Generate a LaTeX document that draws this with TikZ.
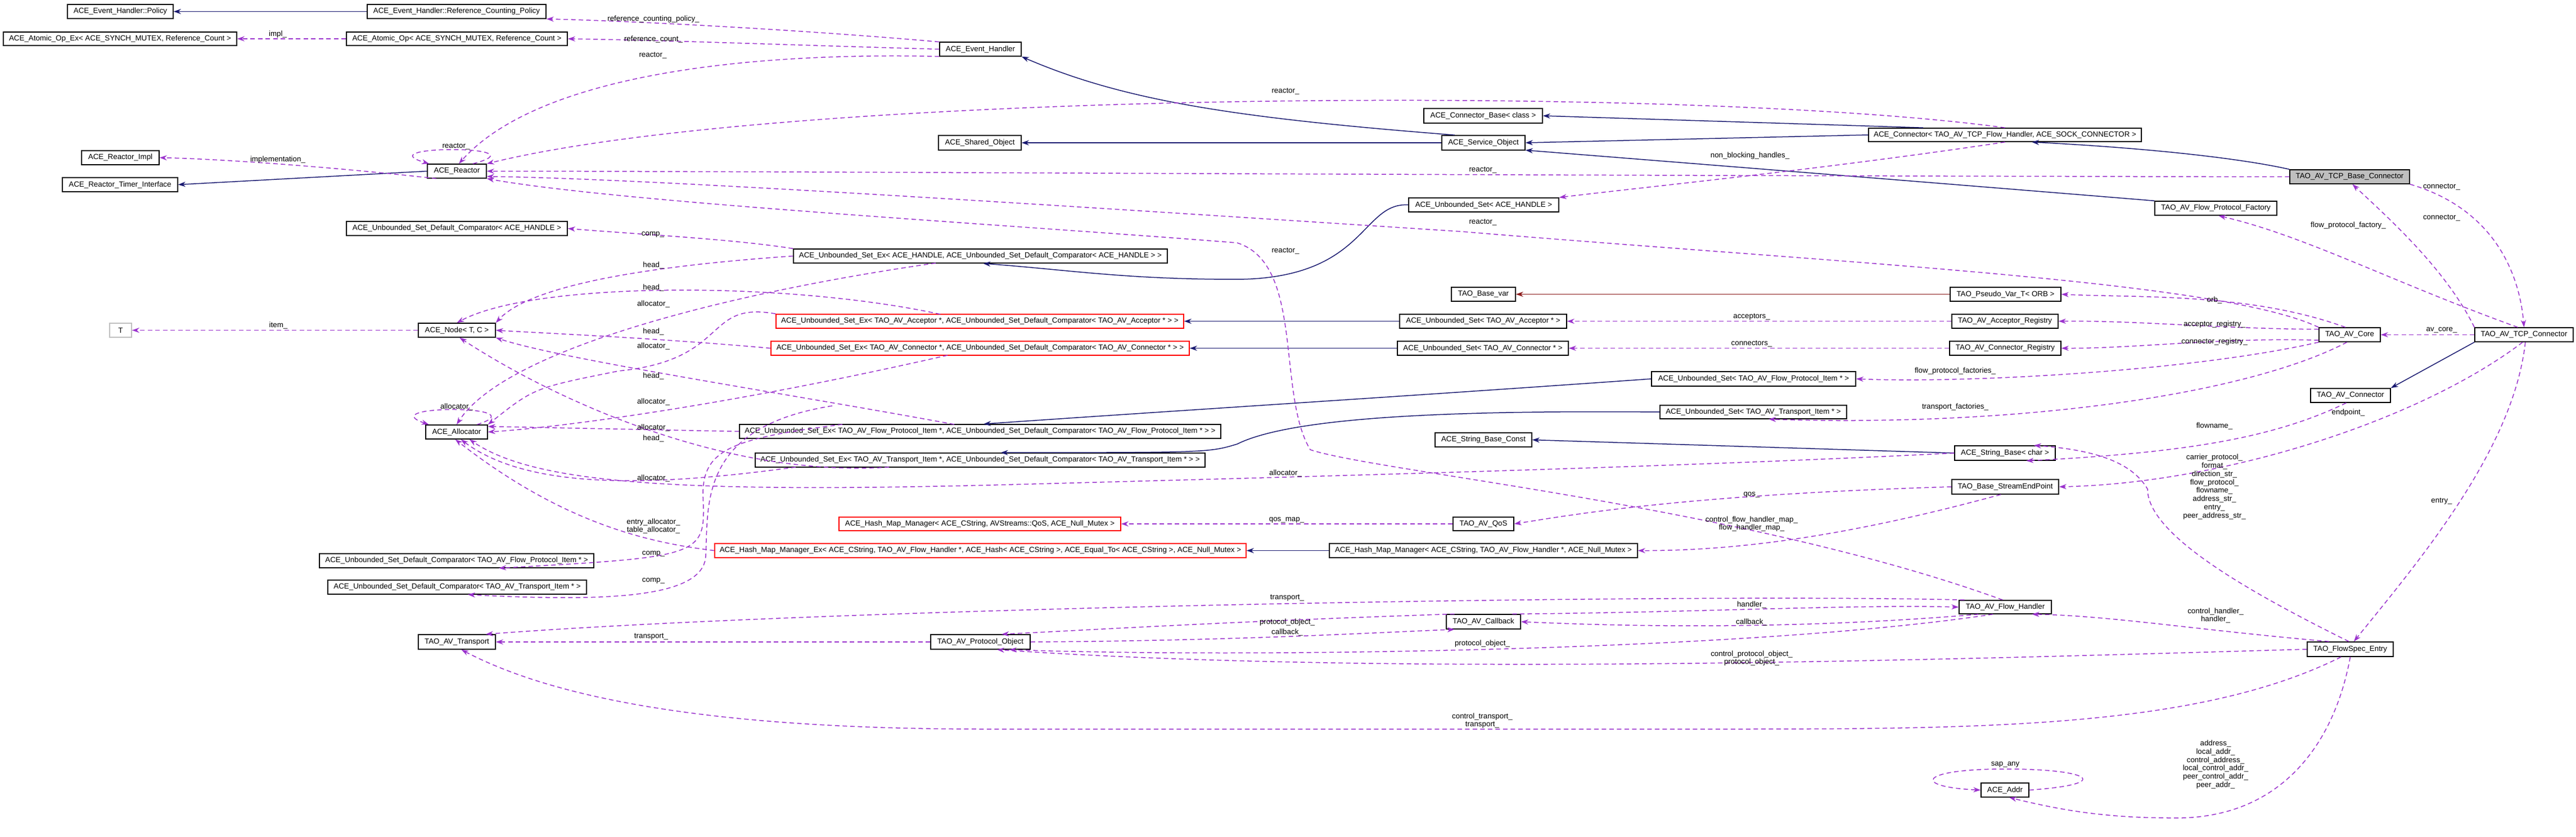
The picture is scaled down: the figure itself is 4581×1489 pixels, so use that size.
\documentclass[tikz,border=0pt]{standalone}
\usepackage{fontspec}
\setmainfont{Liberation Sans}
\usetikzlibrary{arrows.meta}
\definecolor{pur}{HTML}{9A32CD}
\definecolor{nav}{HTML}{191970}
\definecolor{brn}{HTML}{8B1A1A}
\definecolor{gr}{HTML}{BFBFBF}
\newcommand\bx[7]{\node[box,#7,minimum width={(#4-#2)*0.2mm},minimum height={(#5-#3)*0.2mm}] (#1) at ({(#2+#4)/2},{(#3+#5)/2}) {#6};}
\newcommand\lb[3]{\node[lbl] at (#1,#2) {#3};}
\begin{document}
\begin{tikzpicture}[x=0.2mm,y=-0.2mm,
  box/.style={draw=black,line width=0.3mm,fill=white,inner sep=0pt,font=\fontsize{7.6}{9}\selectfont},
  redb/.style={draw=red},
  lbl/.style={font=\fontsize{7.6}{8.4}\selectfont,align=center,inner sep=0pt},
  use/.style={draw=pur,line width=0.3mm,dash pattern=on 1.6mm off 1.1mm,-{Stealth[length=2.6mm,width=1.8mm]}},
  inh/.style={draw=nav,line width=0.3mm,-{Stealth[length=2.6mm,width=1.8mm]}},
  inr/.style={draw=brn,line width=0.3mm,-{Stealth[length=2.6mm,width=1.8mm]}}]
\useasboundingbox (0,0) rectangle (4581,1489);
\fill[white] (0,0) rectangle (4581,1489);
% nodes
\bx{policy}{120}{8}{308}{33}{ACE\_Event\_Handler::Policy}{}
\bx{rcp}{653}{8}{971}{33}{ACE\_Event\_Handler::Reference\_Counting\_Policy}{}
\bx{aopex}{6}{57}{421}{81}{ACE\_Atomic\_Op\_Ex< ACE\_SYNCH\_MUTEX, Reference\_Count >}{}
\bx{aop}{616}{57}{1009}{81}{ACE\_Atomic\_Op< ACE\_SYNCH\_MUTEX, Reference\_Count >}{}
\bx{evh}{1671}{75}{1816}{100}{ACE\_Event\_Handler}{}
\bx{rimpl}{145}{268}{283}{293}{ACE\_Reactor\_Impl}{}
\bx{rti}{111}{316}{316}{341}{ACE\_Reactor\_Timer\_Interface}{}
\bx{reactor}{760}{292}{865}{317}{ACE\_Reactor}{}
\bx{cbase}{2532}{193}{2743}{219}{ACE\_Connector\_Base< class >}{}
\bx{shared}{1669}{241}{1816}{267}{ACE\_Shared\_Object}{}
\bx{svc}{2564}{241}{2712}{267}{ACE\_Service\_Object}{}
\bx{acon}{3323}{228}{3808}{252}{ACE\_Connector< TAO\_AV\_TCP\_Flow\_Handler, ACE\_SOCK\_CONNECTOR >}{}
\bx{tcpbase}{4072}{302}{4285}{327}{TAO\_AV\_TCP\_Base\_Connector}{fill=gr}
\bx{fpf}{3832}{358}{4049}{383}{TAO\_AV\_Flow\_Protocol\_Factory}{}
\bx{usetH}{2505}{352}{2772}{377}{ACE\_Unbounded\_Set< ACE\_HANDLE >}{}
\bx{dcH}{616}{394}{1009}{419}{ACE\_Unbounded\_Set\_Default\_Comparator< ACE\_HANDLE >}{}
\bx{usexH}{1411}{443}{2076}{468}{ACE\_Unbounded\_Set\_Ex< ACE\_HANDLE, ACE\_Unbounded\_Set\_Default\_Comparator< ACE\_HANDLE > >}{}
\bx{nodeTC}{744}{575}{881}{600}{ACE\_Node< T, C >}{}
\bx{T}{195}{575}{234}{600}{T}{draw=gr}
\bx{basevar}{2581}{511}{2695}{536}{TAO\_Base\_var}{}
\bx{pseudo}{3468}{511}{3665}{536}{TAO\_Pseudo\_Var\_T< ORB >}{}
\bx{usexAcc}{1380}{559}{2105}{584}{ACE\_Unbounded\_Set\_Ex< TAO\_AV\_Acceptor *, ACE\_Unbounded\_Set\_Default\_Comparator< TAO\_AV\_Acceptor * > >}{redb}
\bx{usetAcc}{2489}{559}{2786}{584}{ACE\_Unbounded\_Set< TAO\_AV\_Acceptor * >}{}
\bx{accreg}{3471}{559}{3660}{584}{TAO\_AV\_Acceptor\_Registry}{}
\bx{usexCon}{1371}{607}{2115}{632}{ACE\_Unbounded\_Set\_Ex< TAO\_AV\_Connector *, ACE\_Unbounded\_Set\_Default\_Comparator< TAO\_AV\_Connector * > >}{redb}
\bx{usetCon}{2485}{607}{2789}{632}{ACE\_Unbounded\_Set< TAO\_AV\_Connector * >}{}
\bx{conreg}{3467}{607}{3665}{632}{TAO\_AV\_Connector\_Registry}{}
\bx{avcore}{4124}{583}{4233}{608}{TAO\_AV\_Core}{}
\bx{tcpcon}{4401}{583}{4576}{608}{TAO\_AV\_TCP\_Connector}{}
\bx{usetFPI}{2937}{661}{3300}{687}{ACE\_Unbounded\_Set< TAO\_AV\_Flow\_Protocol\_Item * >}{}
\bx{avcon}{4109}{691}{4251}{716}{TAO\_AV\_Connector}{}
\bx{usetTI}{2952}{721}{3284}{745}{ACE\_Unbounded\_Set< TAO\_AV\_Transport\_Item * >}{}
\bx{usexFPI}{1315}{755}{2171}{780}{ACE\_Unbounded\_Set\_Ex< TAO\_AV\_Flow\_Protocol\_Item *, ACE\_Unbounded\_Set\_Default\_Comparator< TAO\_AV\_Flow\_Protocol\_Item * > >}{}
\bx{alloc}{757}{756}{867}{781}{ACE\_Allocator}{}
\bx{strconst}{2552}{770}{2724}{795}{ACE\_String\_Base\_Const}{}
\bx{strb}{3476}{793}{3655}{819}{ACE\_String\_Base< char >}{}
\bx{usexTI}{1343}{806}{2143}{831}{ACE\_Unbounded\_Set\_Ex< TAO\_AV\_Transport\_Item *, ACE\_Unbounded\_Set\_Default\_Comparator< TAO\_AV\_Transport\_Item * > >}{}
\bx{sep}{3471}{853}{3661}{879}{TAO\_Base\_StreamEndPoint}{}
\bx{hmmqos}{1492}{920}{1993}{944}{ACE\_Hash\_Map\_Manager< ACE\_CString, AVStreams::QoS, ACE\_Null\_Mutex >}{redb}
\bx{qos}{2584}{920}{2692}{944}{TAO\_AV\_QoS}{}
\bx{hmmex}{1271}{967}{2216}{992}{ACE\_Hash\_Map\_Manager\_Ex< ACE\_CString, TAO\_AV\_Flow\_Handler *, ACE\_Hash< ACE\_CString >, ACE\_Equal\_To< ACE\_CString >, ACE\_Null\_Mutex >}{redb}
\bx{hmmFH}{2364}{967}{2912}{992}{ACE\_Hash\_Map\_Manager< ACE\_CString, TAO\_AV\_Flow\_Handler *, ACE\_Null\_Mutex >}{}
\bx{dcFPI}{568}{985}{1056}{1010}{ACE\_Unbounded\_Set\_Default\_Comparator< TAO\_AV\_Flow\_Protocol\_Item * >}{}
\bx{dcTI}{583}{1032}{1043}{1057}{ACE\_Unbounded\_Set\_Default\_Comparator< TAO\_AV\_Transport\_Item * >}{}
\bx{fh}{3484}{1068}{3648}{1092}{TAO\_AV\_Flow\_Handler}{}
\bx{cb}{2572}{1093}{2704}{1119}{TAO\_AV\_Callback}{}
\bx{transport}{744}{1129}{881}{1155}{TAO\_AV\_Transport}{}
\bx{po}{1655}{1129}{1832}{1155}{TAO\_AV\_Protocol\_Object}{}
\bx{fse}{4103}{1142}{4256}{1168}{TAO\_FlowSpec\_Entry}{}
\bx{addr}{3523}{1393}{3608}{1418}{ACE\_Addr}{}
% inheritance
\draw[inh] (rcp.west) -- (policy.east);
\draw[inh] (reactor.west) -- (rti.east);
\draw[inh] (svc.165) .. controls (2200,210) and (2000,180) .. (evh.south east);
\draw[inh] (svc.west) -- (shared.east);
\draw[inh] (acon.175) -- (cbase.east);
\draw[inh] (acon.west) -- (svc.east);
\draw[inh] (fpf.north west) .. controls (3500,330) and (3000,290) .. (svc.-10);
\draw[inh] (tcpbase.north west) .. controls (4000,285) and (3850,265) .. (acon.-15);
\draw[inh] (usetH.west) .. controls (2420,360) and (2430,495) .. (2200,497) .. controls (2000,497) and (1900,480) .. (usexH.-70);
\draw[inh] (usetAcc.west) -- (usexAcc.east);
\draw[inh] (usetCon.west) -- (usexCon.east);
\draw[inh] (usetFPI.west) .. controls (2500,705) and (2100,730) .. (usexFPI.65);
\draw[inh] (usetTI.west) .. controls (2600,730) and (2300,740) .. (2200,790) .. controls (2150,805) .. (usexTI.20);
\draw[inh] (strb.west) -- (strconst.east);
\draw[inh] (hmmFH.west) -- (hmmex.east);
\draw[inh] (tcpcon.south west) -- (avcon.north east);
\draw[inr] (pseudo.west) -- (basevar.east);
% usage
\draw[use] (evh.170) .. controls (1450,55) and (1150,38) .. (rcp.south east);
\draw[use] (evh.180) .. controls (1400,80) and (1200,72) .. (aop.east);
\draw[use] (evh.190) .. controls (1300,92) and (950,140) .. (reactor.75);
\draw[use] (aop.west) -- (aopex.east);
\draw[use] (reactor.200) .. controls (600,298) and (400,283) .. (rimpl.east);
\draw[use] (reactor.25) .. controls (970,258) and (650,258) .. (reactor.165);
\draw[use] (acon.north) .. controls (3000,150) and (1400,160) .. (reactor.north east);
\draw[use] (tcpbase.west) .. controls (2500,312) and (1500,305) .. (reactor.east);
\draw[use] (acon.south) .. controls (3250,300) and (2950,330) .. (usetH.north east);
\draw[use] (avcore.north west) .. controls (3950,500) and (3300,470) .. (2600,412) .. controls (1800,360) and (1150,318) .. (reactor.-10);
\draw[use] (fh.110) .. controls (3100,900) and (2450,840) .. (2330,800) .. controls (2270,700) and (2320,470) .. (2200,432) .. controls (1800,400) and (1100,360) .. (reactor.south east);
\draw[use] (usexH.north west) .. controls (1300,425) and (1150,418) .. (dcH.east);
\draw[use] (usexH.west) .. controls (1200,470) and (950,500) .. (nodeTC.north east);
\draw[use] (1664,468) .. controls (1300,520) and (900,620) .. (alloc.north);
\draw[use] (1672,559) .. controls (1400,500) and (950,500) .. (nodeTC.north);
\draw[use] (usexAcc.north west) .. controls (1250,535) and (1300,640) .. (1100,660) .. controls (950,690) .. (alloc.north east);
\draw[use] (usexCon.west) .. controls (1150,600) and (950,592) .. (nodeTC.east);
\draw[use] (1685,632) .. controls (1300,720) and (1000,760) .. (alloc.east);
\draw[use] (1697,755) .. controls (1400,700) and (1000,640) .. (nodeTC.south east);
\draw[use] (usexFPI.west) -- (alloc.10);
\draw[use] (1498,755) .. controls (1300,780) and (1250,800) .. (1250,880) .. controls (1255,990) .. (dcFPI.-10);
\draw[use] (1480,722) .. controls (1240,760) and (1260,900) .. (1255,990) .. controls (1250,1060) and (1100,1072) .. (dcTI.-35);
\draw[use] (1581,831) .. controls (1300,850) and (1000,720) .. (nodeTC.-70);
\draw[use] (1415,831) .. controls (1200,860) and (950,880) .. (alloc.-60);
\draw[use] (hmmex.west) .. controls (1150,965) and (1000,930) .. (alloc.-100);
\draw[use] (strb.west) .. controls (3000,830) and (2400,846) .. (1800,862) .. controls (1200,878) and (950,860) .. (alloc.-30);
\draw[use] (alloc.20) .. controls (960,720) and (660,720) .. (alloc.165);
\draw[use] (nodeTC.west) -- (T.east);
\draw[use] (avcore.120) .. controls (4000,520) and (3800,530) .. (pseudo.east);
\draw[use] (avcore.170) .. controls (3950,585) and (3800,570) .. (accreg.east);
\draw[use] (avcore.190) .. controls (3950,600) and (3800,620) .. (conreg.east);
\draw[use] (avcore.south west) .. controls (3900,660) and (3500,682) .. (usetFPI.east);
\draw[use] (avcore.-110) .. controls (4000,700) and (3600,760) .. (usetTI.-25);
\draw[use] (accreg.west) -- (usetAcc.east);
\draw[use] (conreg.west) -- (usetCon.east);
\draw[use] (tcpcon.west) -- (avcore.east);
\draw[use] (tcpcon.north west) .. controls (4350,480) and (4250,390) .. (tcpbase.-70);
\draw[use] (tcpbase.south east) .. controls (4430,370) and (4480,480) .. (tcpcon.north);
\draw[use] (tcpcon.130) .. controls (4250,500) and (4100,420) .. (fpf.-70);
\draw[use] (tcpcon.-100) .. controls (4300,750) and (3950,860) .. (sep.east);
\draw[use] (avcon.-120) .. controls (4050,776) and (3900,805) .. (strb.-20);
\draw[use] (fse.100) .. controls (3993,1050) and (3819,950) .. (3819,870) .. controls (3790,820) and (3720,800) .. (strb.15);
\draw[use] (tcpcon.-80) .. controls (4470,800) and (4300,1000) .. (fse.65);
\draw[use] (sep.west) .. controls (3000,880) and (2800,915) .. (qos.east);
\draw[use] (qos.west) -- (hmmqos.east);
\draw[use] (sep.-120) .. controls (3300,950) and (3100,980) .. (hmmFH.east);
\draw[use] (fh.170) .. controls (3000,1055) and (1500,1080) .. (transport.15);
\draw[use] (po.west) -- (transport.east);
\draw[use] (cb.15) .. controls (3000,1090) and (3300,1075) .. (fh.west);
\draw[use] (fh.-165) .. controls (3200,1120) and (2900,1115) .. (cb.east);
\draw[use] (cb.165) .. controls (2200,1105) and (1950,1120) .. (po.20);
\draw[use] (po.east) .. controls (2200,1140) and (2450,1125) .. (cb.-165);
\draw[use] (fh.-150) .. controls (3100,1160) and (2200,1170) .. (po.-15);
\draw[use] (fse.west) .. controls (3500,1172) and (2500,1205) .. (po.-25);
\draw[use] (fse.-140) .. controls (3900,1300) and (3500,1297) .. (3000,1297) -- (1750,1297) .. controls (1300,1297) and (1000,1250) .. (transport.-60);
\draw[use] (fse.160) .. controls (3900,1120) and (3750,1095) .. (fh.-15);
\draw[use] (fse.south) .. controls (4150,1330) and (4050,1460) .. (3860,1455) .. controls (3740,1455) and (3660,1440) .. (addr.-60);
\draw[use] (addr.east) .. controls (3760,1395) and (3720,1368) .. (3566,1368) .. controls (3410,1368) and (3400,1400) .. (addr.west);
% labels
\lb{1162}{34}{reference\_counting\_policy\_}
\lb{1162}{70}{reference\_count\_}
\lb{1161}{99}{reactor\_}
\lb{494}{61}{impl\_}
\lb{494}{284}{implementation\_}
\lb{811}{261}{reactor\_}
\lb{2286}{163}{reactor\_}
\lb{2637}{303}{reactor\_}
\lb{3112}{277}{non\_blocking\_handles\_}
\lb{2637}{396}{reactor\_}
\lb{2286}{447}{reactor\_}
\lb{1161}{417}{comp\_}
\lb{1162}{472}{head\_}
\lb{1162}{512}{head\_}
\lb{1162}{541}{allocator\_}
\lb{1162}{590}{head\_}
\lb{1162}{616}{allocator\_}
\lb{1162}{669}{head\_}
\lb{1162}{715}{allocator\_}
\lb{1162}{761}{allocator\_}
\lb{1162}{780}{head\_}
\lb{1162}{851}{allocator\_}
\lb{1162}{936}{entry\_allocator\_\\table\_allocator\_}
\lb{1162}{985}{comp\_}
\lb{1162}{1033}{comp\_}
\lb{495}{579}{item\_}
\lb{812}{724}{allocator\_}
\lb{2286}{842}{allocator\_}
\lb{2288}{925}{qos\_map\_}
\lb{3115}{564}{acceptors\_}
\lb{3115}{612}{connectors\_}
\lb{3477}{660}{flow\_protocol\_factories\_}
\lb{3477}{724}{transport\_factories\_}
\lb{3115}{880}{qos\_}
\lb{3115}{932}{control\_flow\_handler\_map\_\\flow\_handler\_map\_}
\lb{3938}{534}{orb\_}
\lb{3938}{577}{acceptor\_registry\_}
\lb{3938}{608}{connector\_registry\_}
\lb{4176}{401}{flow\_protocol\_factory\_}
\lb{4342}{333}{connector\_}
\lb{4342}{388}{connector\_}
\lb{4342}{587}{av\_core\_}
\lb{4176}{734}{endpoint\_}
\lb{3938}{758}{flowname\_}
\lb{3938}{866}{carrier\_protocol\_\\format\_\\direction\_str\_\\flow\_protocol\_\\flowname\_\\address\_str\_\\entry\_\\peer\_address\_str\_}
\lb{4342}{892}{entry\_}
\lb{1158}{1133}{transport\_}
\lb{2289}{1064}{transport\_}
\lb{2289}{1107}{protocol\_object\_}
\lb{2289}{1125}{callback\_}
\lb{3115}{1076}{handler\_}
\lb{3115}{1107}{callback\_}
\lb{2636}{1145}{protocol\_object\_}
\lb{3115}{1171}{control\_protocol\_object\_\\protocol\_object\_}
\lb{2636}{1282}{control\_transport\_\\transport\_}
\lb{3940}{1095}{control\_handler\_\\handler\_}
\lb{3940}{1360}{address\_\\local\_addr\_\\control\_address\_\\local\_control\_addr\_\\peer\_control\_addr\_\\peer\_addr\_}
\lb{3566}{1360}{sap\_any}
\end{tikzpicture}
\end{document}
